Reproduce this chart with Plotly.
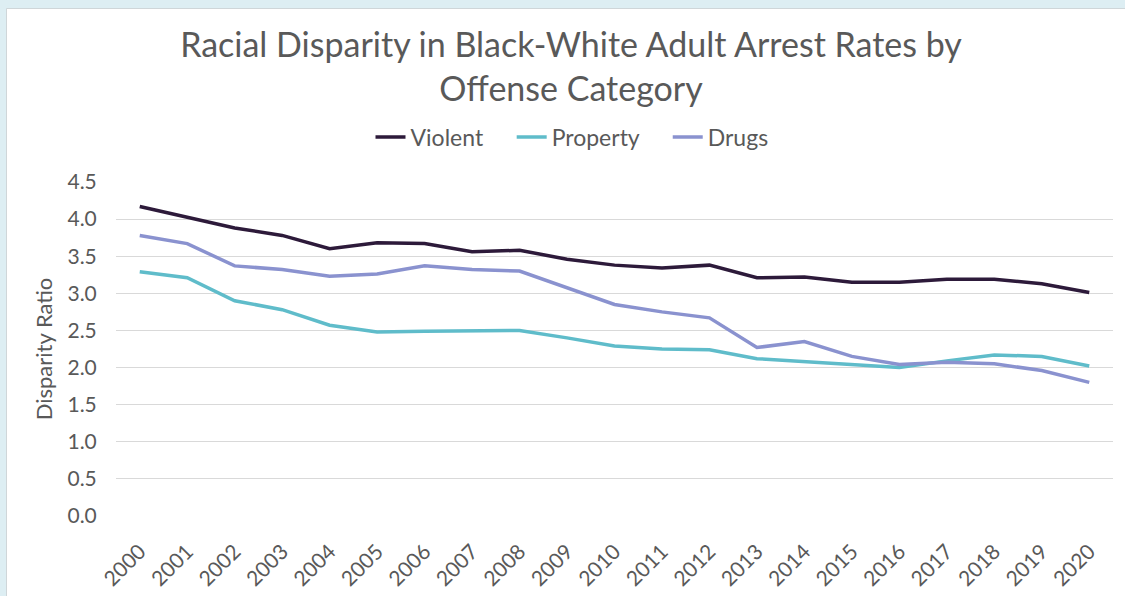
import plotly.graph_objects as go

years = [str(y) for y in range(2000, 2021)]

violent = [4.17, 4.03, 3.88, 3.78, 3.60, 3.68, 3.67, 3.56, 3.58, 3.46, 3.38,
           3.34, 3.38, 3.21, 3.22, 3.15, 3.15, 3.19, 3.19, 3.13, 3.01]
property_ = [3.29, 3.21, 2.90, 2.78, 2.57, 2.48, 2.49, 2.49, 2.50, 2.40, 2.29,
             2.25, 2.24, 2.12, 2.08, 2.04, 2.00, 2.09, 2.17, 2.15, 2.02]
drugs = [3.78, 3.67, 3.37, 3.32, 3.23, 3.26, 3.37, 3.32, 3.30, 3.08, 2.85,
         2.75, 2.67, 2.27, 2.35, 2.15, 2.04, 2.07, 2.05, 1.96, 1.80]

series = [
    ("Violent", violent, "#2d1a3a"),
    ("Property", property_, "#5fbcca"),
    ("Drugs", drugs, "#8a92cf"),
]

y_ticks = [0.0, 0.5, 1.0, 1.5, 2.0, 2.5, 3.0, 3.5, 4.0, 4.5]

FONT = "Lato"
TEXT = "#595959"
PAD = "\u00a0" * 4  # extra room between legend entries

fig = go.Figure()
for i, (name, vals, color) in enumerate(series):
    fig.add_trace(go.Scatter(
        x=years, y=vals, name=name + (PAD if i < len(series) - 1 else ""),
        mode="lines", line=dict(color=color, width=3.5),
    ))

W, H = 1125, 596
L, R, T, B = 116, 12, 182, 80
pw, ph = W - L - R, H - T - B

def px_x(p):
    return (p - L) / pw

def px_y(p):
    return (H - B - p) / ph

# white card with a thin grey border on a pale blue backdrop
fig.add_shape(type="rect", xref="paper", yref="paper", layer="below",
              x0=px_x(6.5), x1=px_x(1130), y0=px_y(8.5), y1=px_y(605),
              fillcolor="white", line=dict(color="#cfd6d9", width=1))

fig.update_layout(
    width=W, height=H,
    margin=dict(l=L, r=R, t=T, b=B, autoexpand=False),
    paper_bgcolor="#ddeef3",
    plot_bgcolor="rgba(0,0,0,0)",
    font=dict(family=FONT, color=TEXT),
    title=dict(
        text="Racial Disparity in Black-White Adult Arrest Rates by<br>Offense Category",
        font=dict(family=FONT, size=34, color=TEXT),
        x=571 / W, xref="container", xanchor="center",
        y=1 - 57 / H, yref="container", yanchor="middle",
    ),
    legend=dict(
        orientation="h", x=px_x(572), xanchor="center",
        y=px_y(137), yanchor="middle",
        font=dict(family=FONT, size=23, color=TEXT),
        bgcolor="rgba(0,0,0,0)", itemwidth=30, tracegroupgap=0,
    ),
    xaxis=dict(
        type="category", range=[-0.5, 20.5], automargin=False,
        tickangle=-45, tickfont=dict(family=FONT, size=21, color=TEXT),
        showgrid=False, showline=False, zeroline=False,
        ticks="outside", ticklen=14, tickcolor="rgba(0,0,0,0)",
    ),
    yaxis=dict(
        range=[0, 4.5], tickvals=y_ticks, automargin=False,
        ticktext=[f"{v:.1f}" for v in y_ticks],
        tickfont=dict(family=FONT, size=21, color=TEXT),
        showgrid=True, gridcolor="#d9d9d9", gridwidth=1,
        zeroline=False, showline=False,
        ticks="outside", ticklen=14, tickcolor="rgba(0,0,0,0)",
        title=dict(text="Disparity Ratio", font=dict(family=FONT, size=22, color=TEXT),
                   standoff=8),
    ),
    showlegend=True,
)

fig.write_html("out.html")
